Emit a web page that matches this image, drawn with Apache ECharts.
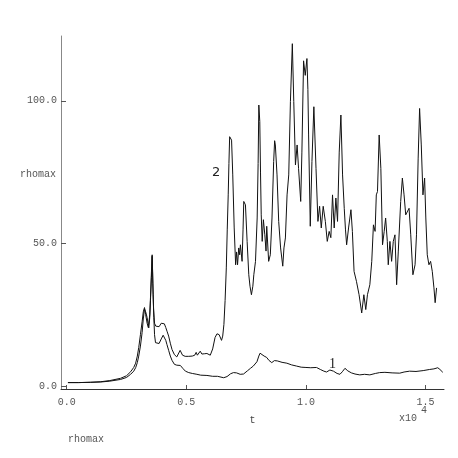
<!DOCTYPE html>
<html>
<head>
<meta charset="utf-8">
<script src="https://cdn.jsdelivr.net/npm/echarts@6/dist/echarts.min.js"></script>
<style>
  html, body { margin: 0; padding: 0; background: #fff; }
  #chart { width: 458px; height: 458px; }
</style>
</head>
<body>
<div id="chart"></div>
<script>
// t in units of 1e4
const t1 = [0.005,0.05,0.1,0.142,0.18,0.225,0.25,0.267,0.28,0.288,0.295,0.301,0.308,0.315,0.32,0.325,0.33,0.336,0.343,0.347,0.35,0.354,0.357,0.359,0.361,0.364,0.367,0.371,0.378,0.386,0.395,0.403,0.408,0.414,0.419,0.426,0.433,0.44,0.45,0.46,0.468,0.475,0.485,0.496,0.51,0.525,0.544,0.56,0.586,0.61,0.63,0.656,0.67,0.685,0.697,0.71,0.725,0.739,0.755,0.768,0.78,0.795,0.803,0.808,0.815,0.825,0.836,0.845,0.857,0.868,0.88,0.9,0.92,0.94,0.96,0.98,1.0,1.02,1.044,1.06,1.075,1.086,1.1,1.115,1.13,1.142,1.152,1.163,1.175,1.19,1.205,1.225,1.245,1.267,1.29,1.308,1.33,1.36,1.392,1.41,1.433,1.46,1.49,1.517,1.535,1.551,1.56,1.572]
const rho1 = [1.2,1.2,1.3,1.4,1.7,2.3,3.0,4.1,5.2,6.4,8.2,10.5,14,18.7,23.5,27,26,24,20.4,24,30,38,45.5,40,32,24,18,15.2,14.8,14.9,16.5,17.8,17.5,16,14.5,12.5,10.5,9,7.6,7.3,7.8,7.2,6.2,5.2,4.7,4.4,4.1,3.8,3.7,3.4,3.4,2.9,3.3,4.3,4.7,4.6,4.1,4.2,5.3,6.2,7,8.5,10.5,11.5,10.9,10.5,10,9,8.2,8.9,8.8,8.3,8,7.4,7,6.6,6.5,6.4,6.5,5.8,5.2,4.9,5.6,5.2,4.4,4.1,5,6.2,5.3,4.6,4.2,3.9,4.1,3.9,4.4,4.7,4.8,4.6,4.5,4.9,5.2,5.1,5.4,5.8,6,6.4,5.8,4.8]

const t2 = [0.005,0.05,0.1,0.142,0.18,0.225,0.25,0.267,0.28,0.288,0.295,0.301,0.308,0.315,0.32,0.325,0.33,0.336,0.341,0.347,0.35,0.354,0.357,0.36,0.363,0.367,0.372,0.378,0.386,0.395,0.401,0.408,0.414,0.42,0.426,0.433,0.44,0.45,0.46,0.468,0.474,0.478,0.484,0.495,0.51,0.525,0.535,0.541,0.546,0.552,0.558,0.565,0.575,0.586,0.6,0.61,0.62,0.628,0.637,0.647,0.652,0.657,0.662,0.667,0.671,0.675,0.678,0.681,0.685,0.689,0.694,0.7,0.706,0.71,0.714,0.719,0.723,0.726,0.733,0.737,0.74,0.744,0.747,0.754,0.761,0.766,0.772,0.778,0.782,0.789,0.796,0.8,0.803,0.807,0.81,0.813,0.817,0.822,0.828,0.833,0.836,0.839,0.844,0.851,0.858,0.865,0.869,0.872,0.879,0.886,0.894,0.903,0.908,0.914,0.921,0.928,0.935,0.943,0.949,0.956,0.963,0.969,0.978,0.983,0.99,0.997,1.004,1.008,1.011,1.018,1.025,1.033,1.042,1.05,1.057,1.064,1.072,1.081,1.089,1.097,1.104,1.111,1.118,1.125,1.132,1.139,1.146,1.153,1.16,1.165,1.17,1.178,1.188,1.194,1.201,1.211,1.222,1.233,1.242,1.25,1.257,1.267,1.275,1.282,1.289,1.294,1.299,1.306,1.313,1.32,1.327,1.333,1.34,1.344,1.351,1.358,1.365,1.372,1.379,1.386,1.396,1.403,1.41,1.417,1.424,1.431,1.438,1.447,1.456,1.462,1.469,1.475,1.482,1.489,1.496,1.501,1.507,1.514,1.521,1.528,1.535,1.54,1.543,1.546]
const rho2 = [1.2,1.2,1.3,1.5,1.9,2.7,3.6,5,6.5,8,10.5,13.5,18,22.5,26,27.5,25,22,20.5,25,31,40,46,36,27,22,21,21.5,20.8,22,22.6,21.8,20.5,19,17.5,15,12.8,11,10.2,10.5,12.5,12.3,10.8,10.4,10.4,10.5,10.8,11.8,10.8,11.3,12.2,11.2,11.3,11.4,10.8,13,17,18.3,18,16,17.5,21.6,30,41.4,55,67,78,87.4,87.8,86.2,74,55.4,42.5,47,42.5,48.4,46,49.5,43.7,55,64.7,65,63.5,50.7,39,35,32,35,39,43.7,58.9,78,98.5,92.7,75,60,50.7,58.3,53,47.3,56,56,43.7,46,58.9,78.7,86,84.5,74,57.7,48.4,42,48.4,51.9,67,74,99.7,120,99.7,77.5,84.5,76.3,64.7,82,114,108.9,114.8,104,88,56,78.7,97.9,76.3,57.7,63,55.4,63,57.7,50.7,54.2,52,67,55.4,65.9,57.7,82,95,74,62.3,55,49.5,55.4,61.8,54.2,40.2,36.7,32,25.6,32,26.8,32,35.5,43.7,56.5,54.2,67,68.2,88,76.3,49.5,54.2,58.9,50.7,42.5,50.7,43.7,50.7,53,35.5,47.3,64.7,72.9,67,60,59.4,62.3,53,39,42.5,53,79.9,97.3,84.5,67,72.9,58.9,46,42.5,43.7,40.2,34.4,29.2,28.5,34.4]

const xTicks = [0, 0.5, 1.0, 1.5]
const yTicks = [0, 50, 100]

const chart = echarts.init(document.getElementById('chart'))

const mono = 'Liberation Mono'
const line1 = t1.map((t, i) => [t, rho1[i]])
const line2 = t2.map((t, i) => [t, rho2[i]])

const option = {
  animation: false,
  grid: { left: 61, right: 14, top: 36, bottom: 69 },
  xAxis: {
    type: 'value',
    min: -0.024,
    max: 1.577,
    name: 't',
    nameLocation: 'middle',
    nameGap: 26,
    nameTextStyle: { fontFamily: mono, fontSize: 10, color: '#444' },
    axisLine: { show: true, onZero: false, lineStyle: { color: '#333', width: 1 } },
    axisTick: { show: true, inside: true, length: 4, customValues: xTicks, lineStyle: { color: '#555' } },
    axisLabel: {
      customValues: xTicks,
      margin: 8,
      fontFamily: mono, fontSize: 10, color: '#555',
      formatter: v => v.toFixed(1)
    },
    splitLine: { show: false }
  },
  yAxis: {
    type: 'value',
    min: -1.05,
    max: 122.7,
    axisLine: { show: true, onZero: false, lineStyle: { color: '#888', width: 1 } },
    axisTick: { show: true, inside: true, length: 5, customValues: yTicks, lineStyle: { color: '#555' } },
    axisLabel: {
      customValues: yTicks,
      margin: 4,
      fontFamily: mono, fontSize: 10, color: '#555',
      formatter: v => v.toFixed(1)
    },
    splitLine: { show: false }
  },
  graphic: [
    { type: 'text', left: 20, top: 169, style: { text: 'rhomax', font: '10px "Liberation Mono"', fill: '#555' } },
    { type: 'text', left: 68, top: 434, style: { text: 'rhomax', font: '10px "Liberation Mono"', fill: '#555' } },
    { type: 'text', left: 399, top: 413, style: { text: 'x10', font: '10px "Liberation Mono"', fill: '#555' } },
    { type: 'text', left: 421, top: 405, style: { text: '4', font: '10px "Liberation Mono"', fill: '#555' } },
    { type: 'text', left: 212, top: 166, style: { text: '2', font: '13px "DejaVu Sans"', fill: '#222' } },
    { type: 'text', left: 329, top: 357, style: { text: '1', font: '14px "Liberation Serif"', fill: '#222' } }
  ],
  series: [
    {
      name: '1', type: 'line', data: line1, showSymbol: false,
      lineStyle: { color: '#111', width: 1 }
    },
    {
      name: '2', type: 'line', data: line2, showSymbol: false,
      lineStyle: { color: '#111', width: 1 }
    }
  ]
}

chart.setOption(option)
</script>
</body>
</html>
